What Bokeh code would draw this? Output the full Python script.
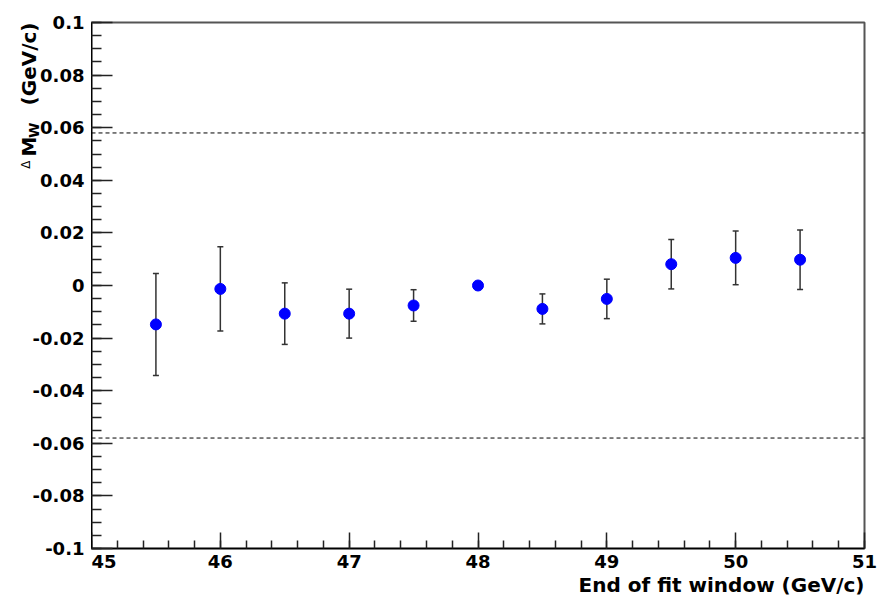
import numpy as np
from bokeh.plotting import figure
from bokeh.layouts import row
from bokeh.models import (Range1d, FixedTicker, Span, Whisker, ColumnDataSource, TeeHead, Title)
from bokeh.core.properties import value
from bokeh.embed import file_html
from bokeh.resources import INLINE

# ---- data ----
fit_end = [45.5, 46.0, 46.5, 47.0, 47.5, 48.0, 48.5, 49.0, 49.5, 50.0, 50.5]
delta_mw = [-0.0148, -0.0013, -0.0107, -0.0107, -0.0076, 0.0, -0.0089, -0.0051, 0.0081, 0.0105, 0.0098]
delta_err = [0.0194, 0.0160, 0.0117, 0.0093, 0.0060, 0.0, 0.0057, 0.0075, 0.0094, 0.0102, 0.0113]
limit_lines = [0.058, -0.058]

x_ticks = [45, 46, 47, 48, 49, 50, 51]
x_tick_labels = ["45", "46", "47", "48", "49", "50", "51"]
y_ticks = [-0.1, -0.08, -0.06, -0.04, -0.02, 0.0, 0.02, 0.04, 0.06, 0.08, 0.1]
y_tick_labels = ["-0.1", "-0.08", "-0.06", "-0.04", "-0.02", "0", "0.02", "0.04", "0.06", "0.08", "0.1"]
x_title = "End of fit window (GeV/c)"
y_title_parts = ["Δ", "M", "W", "(GeV/c)"]

x_min, x_max = 45, 51
y_min, y_max = -0.1, 0.1

FONT = "DejaVu Sans"
W, H = 890, 603
LEFT, TOP, RIGHT, BOTTOM = 91, 22, 26, 55
FRAME_H = H - TOP - BOTTOM
k = (y_max - y_min) / FRAME_H          # data units per pixel (vertical)

# ---------------- main plot ----------------
p = figure(width=W - LEFT, height=H, output_backend="svg", toolbar_location=None,
           x_range=Range1d(x_min, x_max), y_range=Range1d(y_min, y_max),
           min_border_left=0, min_border_top=TOP, min_border_right=RIGHT, min_border_bottom=BOTTOM)
p.frame_align = False
p.background_fill_color = "white"
p.border_fill_color = "white"
p.outline_line_color = "#555555"
p.outline_line_width = 2
p.xgrid.visible = False
p.ygrid.visible = False

x_minor = [round(v, 3) for v in np.arange(x_min, x_max + 1e-9, 0.2)]
y_minor = [round(v, 4) for v in np.arange(y_min, y_max + 1e-9, 0.005)]
p.xaxis.ticker = FixedTicker(ticks=x_ticks, minor_ticks=x_minor)
p.yaxis.ticker = FixedTicker(ticks=y_ticks, minor_ticks=y_minor)
p.xaxis.major_label_overrides = {t: l for t, l in zip(x_ticks, x_tick_labels)}

for ax in (p.xaxis[0], p.yaxis[0]):
    ax.major_tick_out = 0
    ax.minor_tick_out = 0
    ax.axis_line_color = "black"
    ax.axis_line_width = 1.5
    ax.major_tick_line_color = "#222222"
    ax.minor_tick_line_color = "#222222"
    ax.major_tick_line_width = 1.5
    ax.minor_tick_line_width = 1.5
    ax.major_label_text_font = FONT
    ax.major_label_text_font_style = "bold"
    ax.major_label_text_font_size = "18px"
    ax.major_label_text_color = "black"

p.xaxis.major_tick_in = 16
p.xaxis.minor_tick_in = 8
p.xaxis.major_label_standoff = 6
p.yaxis.major_tick_in = 21
p.yaxis.minor_tick_in = 10
# y tick labels are drawn in the left strip (so the axis title can sit beside them)
p.yaxis.major_label_overrides = {t: "" for t in y_ticks}
p.yaxis.major_label_standoff = 0

for yv in limit_lines:
    p.add_layout(Span(location=yv, dimension="width", line_color="black",
                      line_width=1, line_dash="4 3"))

src = ColumnDataSource(dict(
    x=fit_end, y=delta_mw,
    lo=[v - e for v, e in zip(delta_mw, delta_err)],
    hi=[v + e for v, e in zip(delta_mw, delta_err)],
))
w = Whisker(base="x", lower="lo", upper="hi", source=src, level="underlay",
            line_color="#333333", line_width=1.5,
            upper_head=TeeHead(size=6, line_color="#333333", line_width=1.5),
            lower_head=TeeHead(size=6, line_color="#333333", line_width=1.5))
p.add_layout(w)
p.scatter("x", "y", source=src, size=11, fill_color="#0000ff", line_color="#0000ff")

p.add_layout(Title(text=x_title, align="right", text_font=FONT, text_font_style="bold",
                   text_font_size="20px", text_color="black", standoff=0), "below")

# ---------------- left strip: y tick labels + y title ----------------
side = figure(width=LEFT, height=H, output_backend="svg", toolbar_location=None,
              x_range=Range1d(0, LEFT),
              y_range=Range1d(y_min - BOTTOM * k, y_max + TOP * k),
              x_axis_location=None, y_axis_location=None,
              min_border_left=0, min_border_right=0, min_border_top=0, min_border_bottom=0)
side.frame_align = False
side.outline_line_color = None
side.grid.visible = False
side.background_fill_color = "white"
side.border_fill_color = "white"

side.text(x=[LEFT - 7] * len(y_ticks), y=y_ticks, text=y_tick_labels,
          text_align="right", text_baseline="middle", text_color="black",
          text_font=value(FONT), text_font_style="bold", text_font_size="18px")

ang = np.pi / 2
# (text, baseline x px, offset from frame top px, size, style)
title_layout = [
    (y_title_parts[3], 28, 0, "20px", "bold"),
    (y_title_parts[2], 33, 100, "14px", "bold"),
    (y_title_parts[1], 28, 114, "20px", "bold"),
    (y_title_parts[0], 25, 138, "12px", "normal"),
]
for txt, xb, off, fs, st in title_layout:
    side.text(x=[xb], y=[y_max - off * k], text=[txt], angle=ang,
              text_align="right", text_baseline="alphabetic", text_color="black",
              text_font=value(FONT), text_font_style=st, text_font_size=fs)

layout = row(side, p, spacing=0)
open("out.html", "w").write(file_html(layout, INLINE))
